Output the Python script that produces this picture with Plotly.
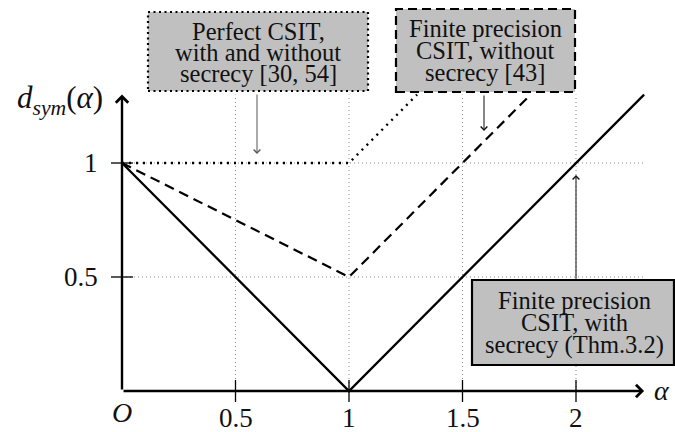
import plotly.graph_objects as go

# ---- data ----
solid_x = [0, 1, 2.3]
solid_y = [1, 0, 1.3]
dashed_x = [0, 1, 1.8]
dashed_y = [1, 0.5, 1.3]
dotted_x = [0, 1, 1.3]
dotted_y = [1, 1, 1.3]

xtick_vals = [0.5, 1, 1.5, 2]
xtick_text = ["0.5", "1", "1.5", "2"]
ytick_vals = [0.5, 1]
ytick_text = ["0.5", "1"]

x_max = 2.3
y_max = 1.3

box1_lines = ["Perfect CSIT,", "with and without", "secrecy [30, 54]"]
box2_lines = ["Finite precision", "CSIT, without", "secrecy [43]"]
box3_lines = ["Finite precision", "CSIT, with", "secrecy (Thm.3.2)"]

# ---- layout helpers (pixel -> data) ----
W, H = 675, 432
OX, OY = 122, 391
SX, SY = 227, 228


def X(px):
    return (px - OX) / SX


def Y(py):
    return (OY - py) / SY


FONT = "Liberation Serif"
TXT = "#111111"

fig = go.Figure()

# grid lines
gx, gy = [], []
for v in xtick_vals:
    gx += [v, v, None]
    gy += [0, y_max, None]
for v in ytick_vals:
    gx += [0, x_max, None]
    gy += [v, v, None]
fig.add_trace(go.Scatter(x=gx, y=gy, mode="lines",
                         line=dict(color="#8a8a8a", width=1.0, dash="1px,3px"),
                         hoverinfo="skip", showlegend=False))

# curves
fig.add_trace(go.Scatter(x=dotted_x, y=dotted_y, mode="lines",
                         line=dict(color="black", width=2.4, dash="2px,5px"),
                         showlegend=False))
fig.add_trace(go.Scatter(x=dashed_x, y=dashed_y, mode="lines",
                         line=dict(color="black", width=2.2, dash="10px,6px"),
                         showlegend=False))
fig.add_trace(go.Scatter(x=solid_x, y=solid_y, mode="lines",
                         line=dict(color="black", width=2.3),
                         showlegend=False))

# tick marks
t = 11 / SY
tx, ty = [], []
for v in xtick_vals:
    tx += [v, v, None]
    ty += [-t, t, None]
fig.add_trace(go.Scatter(x=tx, y=ty, mode="lines",
                         line=dict(color="black", width=1.3),
                         hoverinfo="skip", showlegend=False))
t2 = 11 / SX
ux, uy = [], []
for v in ytick_vals:
    ux += [-t2, t2, None]
    uy += [v, v, None]
fig.add_trace(go.Scatter(x=ux, y=uy, mode="lines",
                         line=dict(color="black", width=1.3),
                         hoverinfo="skip", showlegend=False))

annotations = []
# axes arrows
annotations.append(dict(x=x_max, y=0, ax=0, ay=0, xref="x", yref="y",
                        axref="x", ayref="y", text="", showarrow=True,
                        arrowhead=4, arrowsize=1.0, arrowwidth=2.4,
                        arrowcolor="black", standoff=0, startstandoff=0))
annotations.append(dict(x=0, y=y_max, ax=0, ay=0, xref="x", yref="y",
                        axref="x", ayref="y", text="", showarrow=True,
                        arrowhead=4, arrowsize=1.0, arrowwidth=2.4,
                        arrowcolor="black", standoff=0, startstandoff=0))

# tick labels
for v, s in zip(xtick_vals, xtick_text):
    annotations.append(dict(x=v, y=Y(418), xref="x", yref="y", text=s,
                            showarrow=False, font=dict(family=FONT, size=27, color=TXT),
                            xanchor="center", yanchor="middle"))
for v, s in zip(ytick_vals, ytick_text):
    annotations.append(dict(x=X(100), y=v, xref="x", yref="y", text=s,
                            showarrow=False, font=dict(family=FONT, size=27, color=TXT),
                            xanchor="right", yanchor="middle"))

# axis labels
annotations.append(dict(x=X(122), y=Y(412), xref="x", yref="y", text="<i>O</i>",
                        showarrow=False, font=dict(family=FONT, size=28, color=TXT),
                        xanchor="center", yanchor="middle"))
annotations.append(dict(x=X(652), y=Y(390), xref="x", yref="y", text="<i>α</i>",
                        showarrow=False, font=dict(family=FONT, size=28, color=TXT),
                        xanchor="left", yanchor="middle"))
annotations.append(dict(x=X(60), y=Y(100), xref="x", yref="y",
                        text="<i>d</i><sub><i>sym</i></sub>(<i>α</i>)",
                        showarrow=False, font=dict(family=FONT, size=31, color=TXT),
                        xanchor="center", yanchor="middle"))

# boxes
shapes = []
boxes = [
    (148, 12, 368, 91, "dot", box1_lines, 258, [31, 52, 73]),
    (396, 9, 575, 92, "dash", box2_lines, 485, [28, 50, 72]),
    (472, 280, 674, 365, "solid", box3_lines, 574, [300, 322, 345]),
]
for (x0, y0, x1, y1, dash, lines, cx, lys) in boxes:
    shapes.append(dict(type="rect", xref="x", yref="y",
                       x0=X(x0), x1=X(x1), y0=Y(y1), y1=Y(y0),
                       fillcolor="#c0c0c0",
                       line=dict(color="black", width=2.2,
                                 dash={"dot": "2px,3.5px", "dash": "9px,5px", "solid": "solid"}[dash]),
                       layer="above"))
    for ln, ly in zip(lines, lys):
        annotations.append(dict(x=X(cx), y=Y(ly), xref="x", yref="y", text=ln,
                                showarrow=False,
                                font=dict(family=FONT, size=24.5, color=TXT),
                                xanchor="center", yanchor="middle"))

# pointer arrows
arrows = [
    (257, 93, 257, 154, "#555555"),
    (484, 94, 484, 131, "#111111"),
    (576, 280, 576, 175, "#111111"),
]
for (ax0, ay0, ax1, ay1, col) in arrows:
    annotations.append(dict(x=X(ax1), y=Y(ay1), ax=X(ax0), ay=Y(ay0),
                            xref="x", yref="y", axref="x", ayref="y",
                            text="", showarrow=True, arrowhead=4, arrowsize=1.3,
                            arrowwidth=1.0, arrowcolor=col, standoff=0))

fig.update_layout(
    width=W, height=H,
    margin=dict(l=0, r=0, t=0, b=0),
    paper_bgcolor="white", plot_bgcolor="white",
    xaxis=dict(range=[X(0), X(W)], visible=False, fixedrange=True),
    yaxis=dict(range=[Y(H), Y(0)], visible=False, fixedrange=True),
    shapes=shapes, annotations=annotations,
    showlegend=False,
)

fig.write_html("out.html")
